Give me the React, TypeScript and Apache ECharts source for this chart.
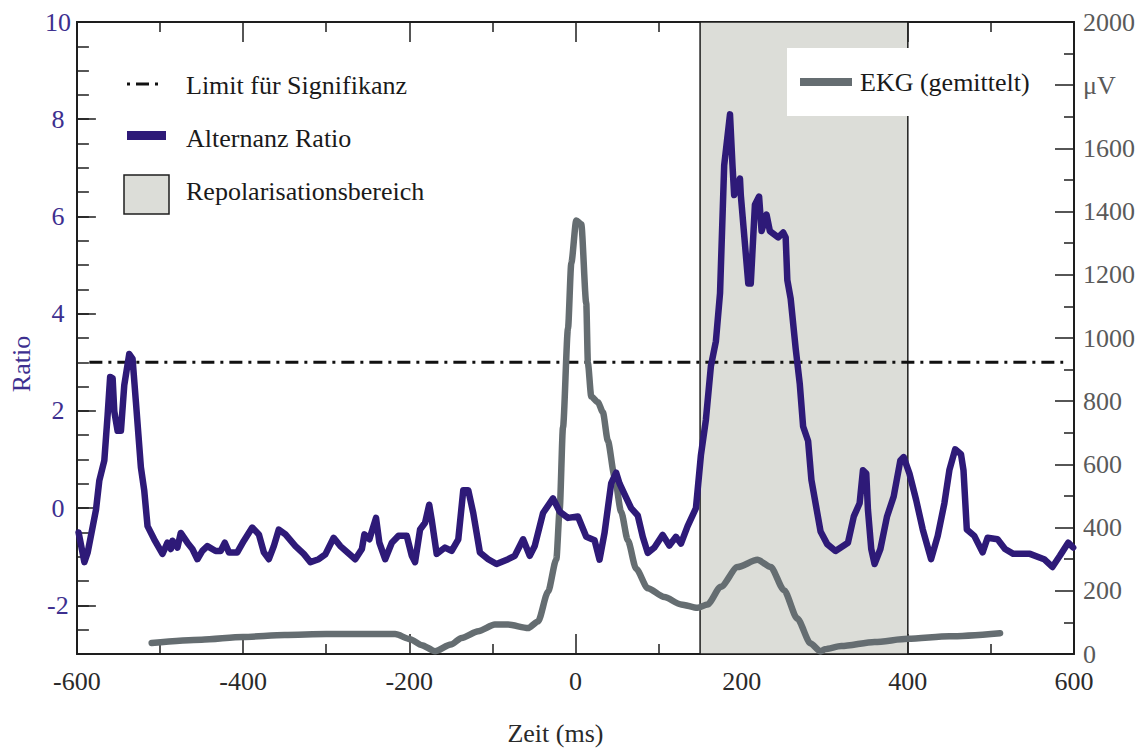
import React, { useEffect, useRef } from "react";
import * as echarts from "echarts";

// ---- data ----
const ALT_MS = [
  -598, -591, -587, -577, -573, -567, -563, -560, -557, -555, -551, -547, -543, -537, -533, -529, -523, -519, -515,
  -507, -497, -491, -487, -485, -479, -475, -467, -461, -455, -449, -443, -433, -427, -422, -417, -407, -399, -389,
  -381, -375, -369, -363, -357, -349, -337, -327, -319, -309, -301, -291, -283, -265, -257, -254, -248, -240, -236,
  -229, -221, -213, -203, -197, -193, -187, -181, -176, -173, -167, -157, -149, -141, -135, -129, -123, -115, -105,
  -95, -81, -73, -63, -55, -49, -39, -27, -19, -9, 3, 13, 23, 29, 35, 43, 49, 53, 59, 67, 75, 81, 87, 95, 105, 113,
  121, 127, 135, 145, 151, 157, 163, 169, 174, 179, 186, 189, 191, 198, 199, 208, 211, 216, 221, 224, 230, 234, 244,
  250, 253, 255, 259, 265, 270, 274, 280, 284, 290, 295, 303, 313, 328, 335, 342, 346, 350, 352, 356, 360, 367, 375,
  383, 391, 395, 402, 410, 418, 428, 436, 444, 450, 457, 464, 467, 471, 480, 490, 496, 508, 517, 527, 547, 564, 574,
  583, 593, 599,
];
const ALT_RATIO = [
  -0.5, -1.11, -0.91, -0.03, 0.57, 0.98, 1.92, 2.7, 2.67, 1.99, 1.59, 1.59, 2.53, 3.17, 3.07, 2.19, 0.84, 0.37, -0.37,
  -0.64, -0.94, -0.71, -0.84, -0.67, -0.81, -0.51, -0.71, -0.84, -1.05, -0.88, -0.78, -0.88, -0.88, -0.71, -0.91, -0.91,
  -0.67, -0.4, -0.54, -0.91, -1.05, -0.78, -0.44, -0.54, -0.78, -0.94, -1.11, -1.05, -0.95, -0.61, -0.78, -1.05, -0.84,
  -0.54, -0.64, -0.2, -0.71, -1.05, -0.71, -0.57, -0.57, -0.98, -1.11, -0.44, -0.3, 0.07, -0.24, -0.94, -0.81, -0.88,
  -0.64, 0.37, 0.37, -0.1, -0.91, -1.05, -1.15, -1.05, -0.98, -0.64, -0.98, -0.78, -0.1, 0.2, -0.07, -0.2, -0.17,
  -0.59, -0.66, -1.06, -0.51, 0.51, 0.73, 0.51, 0.29, 0.0, -0.15, -0.59, -0.92, -0.81, -0.55, -0.77, -0.59, -0.73,
  -0.37, 0.0, 1.09, 1.82, 2.92, 3.43, 4.42, 7.05, 8.1, 7.05, 6.44, 6.78, 6.44, 4.62, 4.62, 6.24, 6.41, 5.7, 6.04, 5.7,
  5.57, 5.67, 5.57, 4.69, 4.31, 3.29, 2.55, 1.68, 1.38, 0.58, 0.0, -0.48, -0.74, -0.88, -0.71, -0.17, 0.1, 0.78, 0.71,
  -0.03, -0.84, -1.15, -0.84, -0.17, 0.24, 0.98, 1.05, 0.71, 0.17, -0.44, -1.05, -0.57, 0.1, 0.78, 1.21, 1.11, 0.78,
  -0.44, -0.57, -0.91, -0.61, -0.64, -0.84, -0.94, -0.94, -1.05, -1.21, -0.98, -0.71, -0.81,
];
const EKG_MS = [
  -510, -450, -400, -350, -300, -217, -199, -185, -169, -150, -137, -117, -97, -81, -57, -45, -33, -23, -19, -15, -9,
  -5, 1, 7, 13, 15, 19, 27, 33, 39, 47, 55, 63, 73, 87, 107, 127, 147, 159, 175, 195, 219, 235, 251, 267, 283, 295,
  300, 320, 360, 400, 450, 511,
];
const EKG_UV = [
  35, 45, 54, 60, 63, 63, 47, 28, 9, 30, 51, 72, 93, 93, 82, 103, 197, 300, 456, 717, 1029, 1237, 1372, 1360, 1110,
  920, 815, 797, 765, 675, 563, 450, 360, 270, 208, 180, 157, 146, 157, 213, 275, 298, 275, 202, 112, 33, 8, 15, 25,
  38, 48, 56, 66,
];
const LIMIT_VALUE = 3;
const LIMIT_RANGE = [-585, 587];
const REPOL_RANGE = [150, 400];
const LEFT_TICK_LABELS = [-2, 0, 2, 4, 6, 8, 10];
const RIGHT_UNIT_AT = 1800;

const FONT = "Liberation Serif, DejaVu Serif, serif";
const PURPLE = "#2e1a78";
const LABEL_PURPLE = "#3d2f8f";
const GREY = "#656d71";
const AXIS = "#1e1e1e";
const SHADE = "#dcddd8";

export default function App() {
  const ref = useRef<HTMLDivElement>(null);

  useEffect(() => {
    if (!ref.current) return;
    const chart = echarts.init(ref.current, undefined, { renderer: "svg" });

    const altData = ALT_MS.map((x, i) => [x, ALT_RATIO[i]]);
    const ekgData = EKG_MS.map((x, i) => [x, EKG_UV[i]]);
    const limitData = LIMIT_RANGE.map((x) => [x, LIMIT_VALUE]);

    const xCommon = {
      type: "value",
      min: -600,
      max: 600,
      interval: 200,
      axisLine: { show: true, onZero: false, lineStyle: { color: AXIS, width: 2 } },
      axisTick: { show: true, inside: true, length: 20, lineStyle: { color: AXIS, width: 1.5 } },
      minorTick: { show: true, splitNumber: 2, length: 10, lineStyle: { color: AXIS, width: 1.5 } },
      splitLine: { show: false },
      minorSplitLine: { show: false },
    };

    const textStyle = { fontFamily: FONT, fontSize: 26, fill: "#1a1a1a" };

    chart.setOption({
      animation: false,
      backgroundColor: "#ffffff",
      grid: { left: 74, right: 67, top: 22, bottom: 88, containLabel: false },
      xAxis: [
        {
          ...xCommon,
          position: "bottom",
          axisLabel: { color: "#2a2a2a", fontFamily: FONT, fontSize: 26, margin: 14 },
          name: "Zeit (ms)",
          nameLocation: "middle",
          nameGap: 66,
          nameTextStyle: { color: "#2a2a2a", fontFamily: FONT, fontSize: 26, padding: [0, 40, 0, 0] },
        },
        { ...xCommon, position: "top", axisLabel: { show: false } },
      ],
      yAxis: [
        {
          type: "value",
          position: "left",
          min: -3,
          max: 10,
          axisLine: { show: true, onZero: false, lineStyle: { color: AXIS, width: 2 } },
          axisTick: {
            show: true,
            inside: true,
            length: 19,
            customValues: LEFT_TICK_LABELS,
            lineStyle: { color: AXIS, width: 1.5 },
          },
          axisLabel: {
            customValues: LEFT_TICK_LABELS,
            color: LABEL_PURPLE,
            fontFamily: FONT,
            fontSize: 26,
            align: "center",
            margin: 19,
          },
          splitLine: { show: false },
          name: "Ratio",
          nameLocation: "middle",
          nameGap: 40,
          nameTextStyle: { color: LABEL_PURPLE, fontFamily: FONT, fontSize: 26, padding: [0, 52, 0, 0] },
        },
        {
          type: "value",
          position: "left",
          min: -3,
          max: 10,
          interval: 0.5,
          axisLine: { show: false, onZero: false },
          axisTick: { show: true, inside: true, length: 12, lineStyle: { color: AXIS, width: 1.5 } },
          axisLabel: { show: false },
          splitLine: { show: false },
        },
        {
          type: "value",
          position: "right",
          min: 0,
          max: 2000,
          interval: 200,
          axisLine: { show: true, onZero: false, lineStyle: { color: AXIS, width: 2 } },
          axisTick: { show: true, inside: true, length: 19, lineStyle: { color: AXIS, width: 1.5 } },
          minorTick: { show: true, splitNumber: 2, length: 10, lineStyle: { color: AXIS, width: 1.5 } },
          axisLabel: {
            color: "#5a5a5a",
            fontFamily: FONT,
            fontSize: 26,
            margin: 9,
            formatter: (v: number) => (v === RIGHT_UNIT_AT ? "μV" : String(v)),
          },
          splitLine: { show: false },
          minorSplitLine: { show: false },
        },
      ],
      series: [
        {
          name: "Repolarisationsbereich",
          type: "line",
          xAxisIndex: 0,
          yAxisIndex: 0,
          data: [],
          z: 1,
          silent: true,
          markArea: {
            silent: true,
            itemStyle: { color: SHADE, borderColor: AXIS, borderWidth: 1.5 },
            data: [[{ xAxis: REPOL_RANGE[0] }, { xAxis: REPOL_RANGE[1] }]],
          },
        },
        {
          name: "Limit für Signifikanz",
          type: "line",
          xAxisIndex: 0,
          yAxisIndex: 0,
          data: limitData,
          symbol: "none",
          z: 3,
          lineStyle: { color: "#111111", width: 3, type: [13, 6, 3, 6] },
        },
        {
          name: "EKG (gemittelt)",
          type: "line",
          xAxisIndex: 0,
          yAxisIndex: 2,
          data: ekgData,
          symbol: "none",
          smooth: 0.25,
          smoothMonotone: "x",
          z: 4,
          lineStyle: { color: GREY, width: 6.5, cap: "round", join: "round" },
        },
        {
          name: "Alternanz Ratio",
          type: "line",
          xAxisIndex: 0,
          yAxisIndex: 0,
          data: altData,
          symbol: "none",
          z: 5,
          lineStyle: { color: PURPLE, width: 6.5, cap: "round", join: "round" },
        },
      ],
      graphic: [
        // left legend
        {
          type: "line",
          z: 100,
          shape: { x1: 127, y1: 84, x2: 159, y2: 84 },
          style: { stroke: "#111111", lineWidth: 3, lineDash: [3, 6, 13, 6] },
        },
        { type: "text", z: 100, x: 186, y: 85, style: { ...textStyle, text: "Limit für Signifikanz", verticalAlign: "middle" } },
        { type: "rect", z: 100, shape: { x: 127, y: 131, width: 39, height: 9 }, style: { fill: PURPLE } },
        { type: "text", z: 100, x: 186, y: 138, style: { ...textStyle, text: "Alternanz Ratio", verticalAlign: "middle" } },
        {
          type: "rect",
          z: 100,
          shape: { x: 124, y: 175, width: 45, height: 39 },
          style: { fill: SHADE, stroke: AXIS, lineWidth: 1.5 },
        },
        { type: "text", z: 100, x: 186, y: 191, style: { ...textStyle, text: "Repolarisationsbereich", verticalAlign: "middle" } },
        // right legend box
        { type: "rect", z: 100, shape: { x: 787, y: 48, width: 264, height: 68 }, style: { fill: "#ffffff" } },
        { type: "rect", z: 101, shape: { x: 800, y: 78, width: 52, height: 8 }, style: { fill: GREY } },
        { type: "text", z: 101, x: 860, y: 82, style: { ...textStyle, text: "EKG (gemittelt)", verticalAlign: "middle" } },
      ],
    });

    return () => chart.dispose();
  }, []);

  return (
    <div
      ref={ref}
      style={{ position: "fixed", left: 0, top: 0, width: 1141, height: 751, background: "#fff" }}
    />
  );
}
